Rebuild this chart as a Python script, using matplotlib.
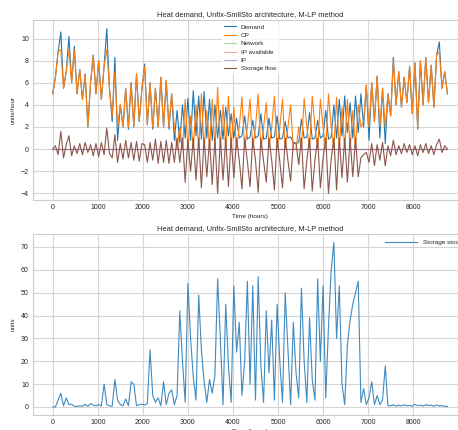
# %% imports

import numpy as np
import matplotlib.pyplot as plt

# data at one sample every 60 hours
step_hours = 60

demand = [
    5.0, 6.5, 8.8, 10.6, 5.5, 7.0, 10.2, 6.0, 9.3, 5.0,
    7.2, 4.5, 6.8, 2.0, 6.0, 8.5, 5.0, 8.0, 4.5, 7.5,
    10.9, 5.5, 2.5, 8.3, 0.8, 4.0, 2.0, 5.5, 1.8, 6.0,
    2.0, 6.8, 2.5, 5.5, 7.7, 2.2, 6.0, 1.8, 5.5, 2.0,
    6.5, 2.0, 6.2, 1.8, 5.0, 0.8, 3.5, 0.6, 4.0, 1.0,
    4.6, 0.8, 5.3, 1.2, 4.8, 0.9, 5.2, 1.0, 4.5, 0.8,
    4.0, 1.0, 3.5, 0.9, 3.8, 1.2, 3.2, 1.0, 2.8, 1.0,
    1.2, 3.0, 0.9, 1.1, 2.6, 1.0, 1.2, 3.2, 0.9, 1.0,
    2.8, 1.0, 1.1, 3.0, 0.9, 1.0, 2.5, 1.0, 1.1, 0.6,
    0.5, 0.6, 2.7, 1.0, 1.1, 3.3, 0.9, 1.0, 2.6, 1.0,
    1.2, 3.5, 0.9, 1.1, 4.0, 1.0, 4.5, 1.2, 4.8, 1.5,
    4.2, 1.0, 4.8, 1.5, 5.0, 2.0, 5.8, 0.8, 6.0, 2.5,
    6.6, 1.0, 5.5, 0.5, 5.0, 3.0, 8.3, 4.0, 7.0, 3.8,
    6.5, 4.2, 7.5, 3.2, 7.8, 1.8, 8.0, 4.0, 8.3, 4.2,
    7.6, 3.8, 8.5, 9.7, 5.5, 7.0, 5.0,
]

cp = [
    5.0, 6.5, 8.8, 9.0, 5.5, 7.0, 9.0, 6.0, 9.0, 5.0,
    7.2, 4.5, 6.8, 2.0, 6.0, 8.5, 5.0, 8.0, 4.5, 7.5,
    9.0, 5.5, 3.0, 7.0, 2.0, 4.0, 2.0, 5.5, 2.0, 6.0,
    2.0, 6.8, 2.5, 5.5, 7.5, 2.2, 6.0, 2.0, 5.5, 2.0,
    6.5, 2.0, 6.2, 2.0, 5.0, 2.0, 0.0, 2.0, 0.0, 4.5,
    0.0, 3.0, 0.0, 4.0, 0.0, 5.0, 0.0, 3.5, 0.0, 4.5,
    0.0, 5.6, 0.0, 4.0, 0.0, 4.8, 0.0, 3.8, 0.0, 2.0,
    4.7, 0.0, 2.0, 4.5, 0.0, 2.0, 5.0, 0.0, 2.0, 4.2,
    0.0, 2.0, 4.8, 0.0, 2.0, 4.5, 0.0, 2.0, 4.0, 0.0,
    0.0, 2.0, 0.0, 4.6, 2.0, 0.0, 4.8, 2.0, 0.0, 4.5,
    2.0, 0.0, 5.0, 2.0, 0.0, 4.7, 0.0, 3.8, 0.0, 4.5,
    0.0, 3.5, 0.0, 4.0, 2.0, 2.5, 5.8, 2.0, 6.0, 2.5,
    6.6, 2.0, 5.5, 2.0, 5.0, 3.0, 8.0, 4.0, 7.0, 3.8,
    6.5, 4.2, 7.5, 3.2, 7.8, 2.0, 8.0, 4.0, 8.3, 4.2,
    7.6, 3.8, 8.5, 8.8, 5.5, 7.0, 5.0,
]

storage_flow = [
    0.0, 0.3, -0.5, 1.6, -0.8, 0.4, 1.2, -0.6, 0.3, -0.4,
    0.5, -0.5, 0.6, -0.3, 0.4, -0.6, 0.5, -0.7, 0.6, -0.5,
    1.9, -0.4, -0.8, 1.3, -1.2, 0.5, -0.9, 0.8, -0.8, 0.6,
    -1.0, 0.7, -1.1, 0.5, 0.4, -1.2, 0.6, -1.0, 0.9, -1.3,
    0.7, -1.2, 0.8, -1.3, 0.6, -1.2, 1.0, -1.2, 1.0, -3.0,
    0.9, -2.0, 1.0, -2.8, 1.0, -3.5, 1.0, -2.5, 0.9, -3.2,
    1.0, -4.0, 1.0, -2.8, 1.0, -3.4, 1.0, -2.6, 1.0, -1.0,
    -3.6, 1.0, -1.1, -3.4, 1.0, -1.0, -3.9, 1.0, -1.1, -3.0,
    1.0, -1.0, -3.7, 1.0, -1.1, -3.5, 1.0, -1.0, -2.9, 0.6,
    0.5, -1.4, 1.0, -3.6, -1.0, 1.0, -3.8, -1.0, 1.0, -3.5,
    -0.8, 1.0, -4.0, -0.9, 1.0, -3.7, 1.0, -2.6, 1.0, -3.0,
    1.0, -2.5, 1.0, -2.5, -0.8, -0.5, -0.3, -1.2, 0.5, -1.5,
    0.4, -1.0, 0.6, -1.5, 0.3, -0.6, 0.8, -0.5, 0.3, -0.4,
    0.5, -0.3, 0.4, -0.5, 0.3, -0.6, 0.4, -0.3, 0.5, -0.4,
    0.3, -0.5, 0.4, 0.9, -0.3, 0.3, 0.0,
]

# network and IP stay at zero all year
network = [0.0] * len(demand)
ip_available = [0.0] * len(demand)
ip = [0.0] * len(demand)

storage_stock = [
    0.0, 0.0, 3.0, 6.0, 0.5, 4.0, 1.0, 1.2, 0.3, 0.2,
    0.5, 0.3, 1.2, 0.2, 1.5, 0.8, 0.5, 1.0, 0.5, 10.0,
    1.0, 0.5, 0.3, 12.0, 3.0, 1.0, 0.5, 3.5, 0.5, 11.0,
    10.0, 0.5, 1.0, 1.2, 0.8, 1.5, 25.0, 5.0, 2.0, 4.0,
    0.5, 11.0, 1.0, 6.0, 7.5, 1.0, 5.0, 42.0, 20.0, 2.0,
    54.0, 30.0, 13.0, 3.0, 49.0, 25.0, 11.0, 2.0, 12.0, 6.0,
    14.0, 56.0, 30.0, 1.0, 45.0, 18.0, 2.0, 53.0, 24.0, 37.0,
    5.0, 20.0, 55.0, 10.0, 53.0, 3.0, 57.0, 18.0, 2.0, 42.0,
    15.0, 38.0, 3.0, 45.0, 20.0, 2.0, 50.0, 25.0, 1.0, 37.0,
    15.0, 4.0, 52.0, 20.0, 2.0, 39.0, 12.0, 3.0, 56.0, 20.0,
    53.0, 4.0, 35.0, 60.0, 72.0, 30.0, 53.0, 10.0, 1.0, 27.0,
    38.0, 45.0, 50.0, 55.0, 2.0, 8.0, 1.0, 4.0, 11.0, 1.0,
    5.0, 1.0, 3.0, 18.0, 0.5, 0.5, 1.0, 0.3, 0.8, 0.4,
    1.0, 0.5, 0.7, 0.3, 1.2, 0.5, 0.8, 0.4, 1.0, 0.6,
    0.8, 0.3, 0.9, 0.4, 0.6, 0.3, 0.2,
]

hours = np.arange(len(demand)) * step_hours
x_ticks = [0, 1000, 2000, 3000, 4000, 5000, 6000, 7000, 8000]

title = "Heat demand, Unflx-SmllSto architecture, M-LP method"

# seaborn-like whitegrid look
plt.rcParams.update({
    "font.family": ["Liberation Sans", "DejaVu Sans"],
    "axes.facecolor": "white",
    "axes.edgecolor": "#cccccc",
    "axes.linewidth": 0.8,
    "axes.grid": True,
    "grid.color": "#d5d5d5",
    "grid.linewidth": 0.8,
    "xtick.color": "#262626",
    "ytick.color": "#262626",
    "xtick.major.size": 0,
    "ytick.major.size": 0,
    "text.color": "#262626",
    "axes.labelcolor": "#262626",
})

fig = plt.figure(figsize=(4.58, 4.30), dpi=100)

# top panel: hourly flows
ax = fig.add_axes([0.072, 0.535, 0.948, 0.419])
lw = 0.8
ax.plot(hours, demand, color="#1f77b4", lw=lw, label="Demand")
ax.plot(hours, cp, color="#ff7f0e", lw=lw, label="CP")
ax.plot(hours, network, color="#2ca02c", lw=lw, alpha=0.4, label="Network")
ax.plot(hours, ip_available, color="#d62728", lw=lw, alpha=0.4, label="IP available")
ax.plot(hours, ip, color="#9467bd", lw=lw, alpha=0.6, label="IP")
ax.plot(hours, storage_flow, color="#8c564b", lw=lw, label="Storage flow")
ax.set_xlim(-438, 9198)
ax.set_ylim(-4.6, 11.7)
ax.set_xticks(x_ticks)
ax.set_yticks([-4, -2, 0, 2, 4, 6, 8, 10])
ax.tick_params(labelsize=5, pad=3)
ax.set_title(title, fontsize=5.4, pad=3)
ax.set_ylabel("units/hour", fontsize=4.6, labelpad=4)
ax.set_xlabel("Time (hours)", fontsize=4.6, labelpad=2)
leg = ax.legend(loc="upper center", fontsize=4.6, frameon=True, framealpha=0.8,
                edgecolor="none", handlelength=1.8, borderaxespad=0.3,
                labelspacing=0.45)
for spine in ax.spines.values():
    spine.set_color("#cccccc")

# bottom panel: storage stock
ax = fig.add_axes([0.072, 0.035, 0.948, 0.421])
ax.plot(hours, storage_stock, color="#1f77b4", lw=0.8, alpha=0.85,
        label="Storage stock")
ax.set_xlim(-438, 9198)
ax.set_ylim(-3.5, 75.7)
ax.set_xticks(x_ticks)
ax.set_yticks([0, 10, 20, 30, 40, 50, 60, 70])
ax.tick_params(labelsize=5, pad=3)
ax.set_title(title, fontsize=5.4, pad=3)
ax.set_ylabel("units", fontsize=4.6, labelpad=4)
ax.set_xlabel("Time (hours)", fontsize=4.6, labelpad=2)
ax.legend(loc="upper right", fontsize=4.6, frameon=False, handlelength=5.0)

plt.savefig("out.png", dpi=100)
